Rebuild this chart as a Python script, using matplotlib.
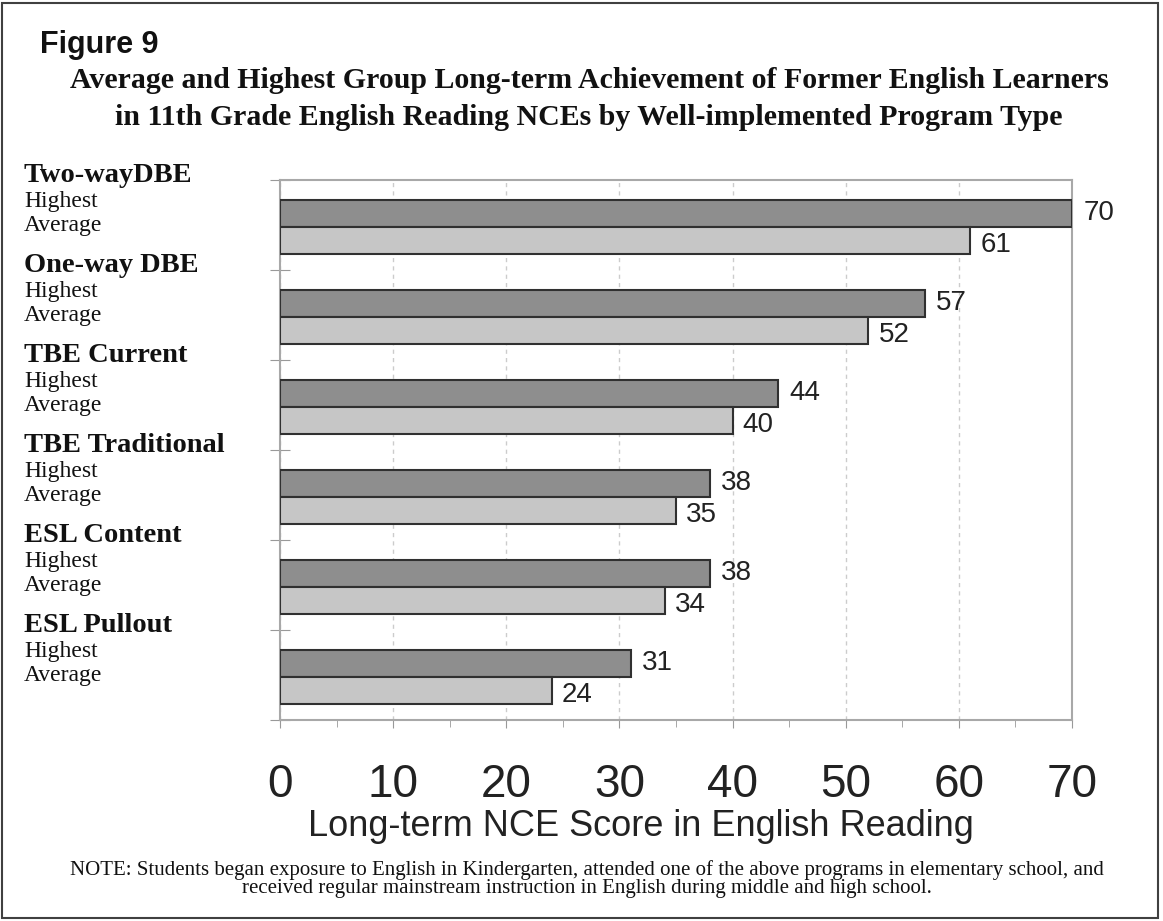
import matplotlib
matplotlib.use("Agg")
import matplotlib.pyplot as plt
import matplotlib.transforms as mtransforms
from matplotlib.patches import Rectangle
import numpy as np

programs = ['Two-wayDBE', 'One-way DBE', 'TBE Current', 'TBE Traditional', 'ESL Content', 'ESL Pullout']
highest = [70, 57, 44, 38, 38, 31]
average = [61, 52, 40, 35, 34, 24]
x_ticks = [0, 10, 20, 30, 40, 50, 60, 70]

W, H = 1163, 921
fig = plt.figure(figsize=(W / 100, H / 100), dpi=100)
ax = fig.add_axes([280 / W, 1 - 720 / H, (1072 - 280) / W, (720 - 180) / H])

sans = 'Liberation Sans'
serif = 'Liberation Serif'

pos = np.arange(len(programs))
ax.barh(pos + 0.37, highest, height=0.3, color='#8e8e8e', edgecolor='#303030', linewidth=1.5, zorder=3)
ax.barh(pos + 0.67, average, height=0.3, color='#c6c6c6', edgecolor='#303030', linewidth=1.5, zorder=3)

for i in range(len(programs)):
    ax.text(highest[i] + 1.0, pos[i] + 0.37, str(highest[i]), va='center', ha='left',
            fontsize=20, family=sans, color='#222222')
    ax.text(average[i] + 0.9, pos[i] + 0.72, str(average[i]), va='center', ha='left',
            fontsize=20, family=sans, color='#222222')

ax.set_xlim(0, 70)
ax.set_ylim(len(programs), 0)
ax.set_xticks(x_ticks)
ax.set_xticklabels([str(t) for t in x_ticks], fontsize=33, family=sans, color='#222222')
ax.set_xticks(np.arange(5, 70, 10), minor=True)
ax.tick_params(axis='x', which='major', length=6, color='#999999', pad=25)
ax.tick_params(axis='x', which='minor', length=5, color='#999999')
ax.set_yticks(range(len(programs) + 1))
ax.set_yticklabels([])
ax.tick_params(axis='y', direction='inout', length=14, color='#999999')
ax.xaxis.grid(True, linestyle=(0, (3, 3)), color='#cccccc', linewidth=1, zorder=0)
for s in ax.spines.values():
    s.set_color('#a8a8a8')
    s.set_linewidth(1.5)
ax.set_xlabel('Long-term NCE Score in English Reading', fontsize=26, family=sans, color='#222222')
ax.xaxis.set_label_coords((641 - 280) / 792, -(826 - 720) / 540)
ax.xaxis.label.set_va('center')

# category labels on the left
trans = mtransforms.blended_transform_factory(fig.transFigure, ax.transData)
for i, name in enumerate(programs):
    ax.text(24 / W, pos[i] - 0.055, name, transform=trans, ha='left', va='center',
            fontsize=20.5, fontweight='bold', family=serif, color='#111111')
    ax.text(24 / W, pos[i] + 0.235, 'Highest', transform=trans, ha='left', va='center',
            fontsize=17, family=serif, color='#111111')
    ax.text(24 / W, pos[i] + 0.505, 'Average', transform=trans, ha='left', va='center',
            fontsize=17, family=serif, color='#111111')

fig.text(40 / W, 1 - 45 / H, 'Figure 9', fontsize=22, fontweight='bold', family=sans,
         ha='left', va='center', color='#111111')
fig.text(589 / W, 1 - 80 / H,
         'Average and Highest Group Long-term Achievement of Former English Learners',
         fontsize=21.5, fontweight='bold', family=serif, ha='center', va='center', color='#111111')
fig.text(589 / W, 1 - 117 / H,
         'in 11th Grade English Reading NCEs by Well-implemented Program Type',
         fontsize=21.5, fontweight='bold', family=serif, ha='center', va='center', color='#111111')

fig.text(587 / W, 1 - 879 / H,
         'NOTE: Students began exposure to English in Kindergarten, attended one of the above programs in elementary school, and\n'
         'received regular mainstream instruction in English during middle and high school.',
         fontsize=15, family=serif, ha='center', va='center', multialignment='center',
         linespacing=0.95, color='#111111')

fig.patches.append(Rectangle((0.002, 0.003), 0.994, 0.994, transform=fig.transFigure,
                             fill=False, edgecolor='#404040', linewidth=1.5))

fig.savefig('out.png', dpi=100)
